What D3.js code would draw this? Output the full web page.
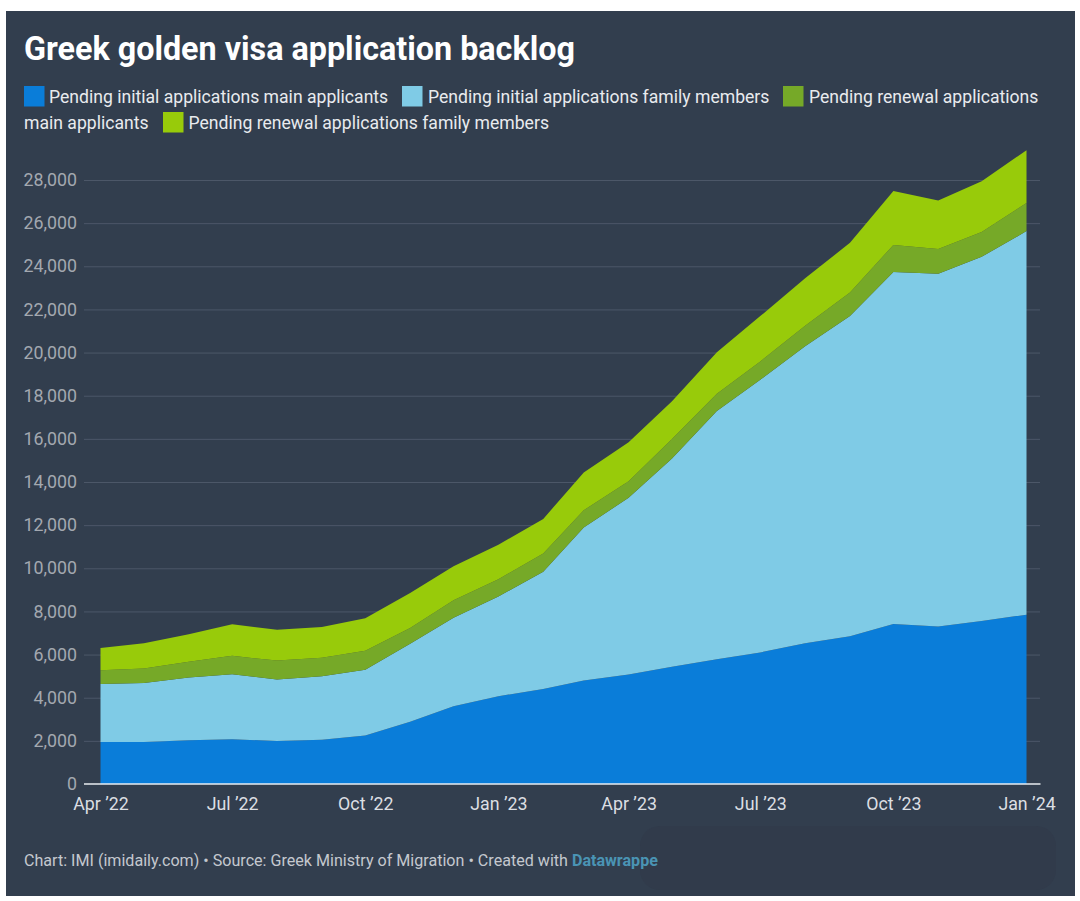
<!DOCTYPE html>
<html><head><meta charset="utf-8">
<script src="https://cdn.jsdelivr.net/npm/d3@7"></script>
<style>
html,body{margin:0;padding:0;background:#fff;width:1080px;height:901px;overflow:hidden}
svg{display:block;font-family:Roboto,sans-serif}
</style></head><body>
<svg id="c" width="1080" height="901"></svg>
<script>
const titleText = "Greek golden visa application backlog";
const months = ["2022-04","2022-05","2022-06","2022-07","2022-08","2022-09","2022-10","2022-11","2022-12","2023-01","2023-02","2023-03","2023-04","2023-05","2023-06","2023-07","2023-08","2023-09","2023-10","2023-11","2023-12","2024-01"];
const initialMain = [1950,1950,2030,2080,1990,2050,2250,2880,3600,4070,4400,4800,5080,5430,5780,6100,6530,6850,7420,7300,7560,7850];
const initialFamily = [2690,2730,2910,3010,2860,2950,3050,3620,4110,4620,5440,7090,8190,9660,11510,12640,13760,14840,16320,16350,16880,17780];
const renewalMain = [630,670,730,850,870,850,880,730,810,800,850,800,770,900,800,850,950,1100,1250,1150,1150,1300];
const renewalFamily = [1040,1170,1270,1470,1430,1430,1500,1620,1570,1600,1600,1750,1800,1750,1930,2100,2200,2300,2500,2250,2350,2450];
const seriesNames = ["Pending initial applications main applicants","Pending initial applications family members","Pending renewal applications main applicants","Pending renewal applications family members"];
const seriesColors = ["#0a7dd9","#7fcbe6","#76a928","#98cb0a"];
const yTicks = d3.range(0,28001,2000);
const xTickMonths = ["2022-04","2022-07","2022-10","2023-01","2023-04","2023-07","2023-10","2024-01"];

const parse = d3.utcParse("%Y-%m");
const rows = months.map((m,i)=>({date:parse(m),a:initialMain[i],b:initialFamily[i],c:renewalMain[i],d:renewalFamily[i]}));
const svg = d3.select("#c");
const x = d3.scaleUtc().domain(d3.extent(rows,d=>d.date)).range([100.5,1026.5]);
const y = d3.scaleLinear().domain([0,28000]).range([784,180]);

svg.append("rect").attr("x",6).attr("y",11).attr("width",1069).attr("height",885).attr("fill","#323e4e");
svg.append("rect").attr("x",640).attr("y",826).attr("width",416).attr("height",64).attr("rx",20).attr("fill","#313b4b");

svg.append("text").attr("x",24).attr("y",60).attr("fill","#fff").attr("font-size",32.3).attr("font-weight",700).text(titleText);

// legend
const legendG = svg.append("g").attr("font-size",17.6).attr("fill","#e9ebee");
const legendItems = [
 {sw:[24,86],tx:[49,103],t:"Pending initial applications main applicants",c:0},
 {sw:[402,86],tx:[428,103],t:"Pending initial applications family members",c:1},
 {sw:[783,86],tx:[809,103],t:"Pending renewal applications",c:2},
 {sw:[163,112],tx:[188.5,129],t:"Pending renewal applications family members",c:3}
];
legendItems.forEach(l=>{
  legendG.append("rect").attr("x",l.sw[0]).attr("y",l.sw[1]).attr("width",20.5).attr("height",20.5).attr("fill",seriesColors[l.c]);
  legendG.append("text").attr("x",l.tx[0]).attr("y",l.tx[1]).text(l.t);
});
legendG.append("text").attr("x",24).attr("y",129).text("main applicants");

// y axis & grid
const yAxis = d3.axisLeft(y).tickValues(yTicks).tickSize(0).tickPadding(0).tickFormat(d3.format(","));
const gy = svg.append("g").attr("transform","translate(77,0)").call(yAxis);
gy.select(".domain").remove();
gy.selectAll("text").attr("font-family","Roboto,sans-serif").attr("font-size",17.8).attr("fill","#a3a8b0");
const grid = d3.axisLeft(y).tickValues(yTicks.filter(d=>d>0)).tickSize(-956).tickFormat("");
const gg = svg.append("g").attr("transform","translate(84,0)").call(grid);
gg.select(".domain").remove();
gg.selectAll("line").attr("stroke","#4c5768").attr("stroke-width",1);

// stacked areas
const stack = d3.stack().keys(["a","b","c","d"])(rows);
const area = d3.area().x(d=>x(d.data.date)).y0(d=>y(d[0])).y1(d=>y(d[1]));
svg.append("g").selectAll("path").data(stack).join("path").attr("d",area).attr("fill",(d,i)=>seriesColors[i]);

// baseline
svg.append("line").attr("x1",84).attr("x2",1040.5).attr("y1",y(0)).attr("y2",y(0)).attr("stroke","#e8ecf0").attr("stroke-width",1.3);

// x axis
const fmt = d=>d3.utcFormat("%b ’%y")(d);
const xAxis = d3.axisBottom(x).tickValues(xTickMonths.map(parse)).tickSize(0).tickPadding(0).tickFormat(fmt);
const gx = svg.append("g").attr("transform","translate(0,797)").call(xAxis);
gx.select(".domain").remove();
gx.selectAll("text").attr("font-family","Roboto,sans-serif").attr("font-size",17.8).attr("fill","#dcdfe3");

// footer
const foot = svg.append("text").attr("x",24).attr("y",866).attr("font-size",16.1).attr("fill","#c4c8ce");
foot.append("tspan").text("Chart: IMI (imidaily.com) • Source: Greek Ministry of Migration • Created with ");
foot.append("tspan").attr("fill","#4a94b4").attr("font-weight",700).text("Datawrappe");
</script>
</body></html>
